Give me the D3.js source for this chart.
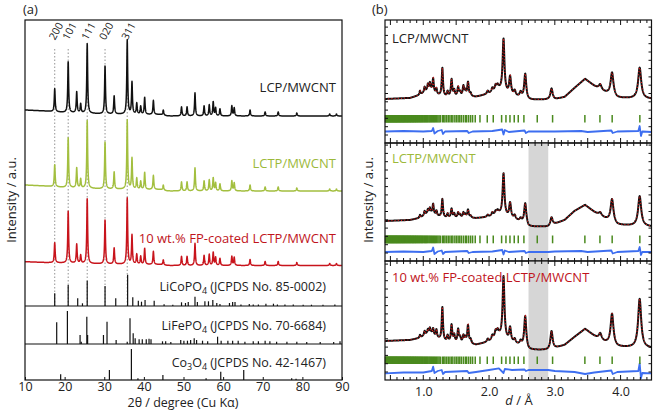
<!DOCTYPE html>
<html><head><meta charset="utf-8">
<script src="https://cdn.jsdelivr.net/npm/d3@7"></script>
<style>body{margin:0;background:#fff}svg{display:block;font-family:'Open Sans',sans-serif}</style>
</head><body>
<svg id="c" width="661" height="412"></svg>
<script>
// ---------- Panel (a) data ----------
const xTicksA = [10,20,30,40,50,60,70,80,90];
const millerLabels = ["200","101","111","020","311"];
const millerPos = [17.5,20.9,25.7,30.2,35.8];
const peakPosA = [17.5,20.9,23.05,24.05,25.7,30.2,32.5,35.8,37.0,38.2,39.2,40.2,42.4,44.9,49.5,50.9,52.9,55.2,56.5,57.5,58.1,59.2,62.2,62.8,66.8,70.6,73.9,78.6,86.9,88.6];
const hLCP  = [23,51,21,9,70,48,18,74,32,11,8,17,14,5,9,9,23,10,11,14,8,7,10,8,6,4,4,3,2,2];
const hLCTP = [22,50,20,9,68,47,17,69,31,11,8,17,14,5,9,9,23,10,11,13,8,7,10,8,6,4,4,3,2,2];
const hFP   = [20,52,19,8,65,44,16,66,29,10,8,16,13,5,9,9,22,10,11,13,8,7,9,8,6,4,4,3,2,2];
const baseLCP  = [[10,196],[15,195],[20,193.5],[30,192],[40,191.5],[44,191.5],[46,190],[48,190],[90,190]];
const baseLCTP = [[10,121],[15,120],[20,118.5],[30,117],[40,116.5],[44,116.5],[46,115],[48,115],[90,115]];
const baseFP   = [[10,44.3],[15,43.5],[20,43],[30,42],[40,41.5],[44,41.5],[46,40.5],[48,40.5],[90,40.5]];
const seriesA = ["LCP/MWCNT","LCTP/MWCNT","10 wt.% FP-coated LCTP/MWCNT"];
// reference patterns (stick)
const lcpRefPos = [17.5,20.9,23.3,24.5,25.7,30.2,32.9,35.9,37.2,38.6,39.4,40.3,42.6,45.1,47.3,49.5,50.5,51.2,52.9,53.5,55.4,56.3,57.4,58.4,59.2,61.6,62.4,63.0,64.5,66.6,67.6,68.9,70.8,72.7,73.7,75.6,77.7,80.2,82.3,85.2,88.2];
const lcpRefH   = [12.7,21,7.7,2.7,25.3,20,7.7,31.3,8.7,5.3,4.3,6,5.3,1.7,1.3,3.7,3,4,9.3,4,4.7,4.7,6,3,2,3,4,4,1.5,2,1.5,1.5,2.3,2.3,1.5,1.5,1.5,1.3,1.3,1.3,1.5];
const lfpRefPos = [18.0,20.7,23.9,24.2,25.6,25.8,29.8,30.7,33.0,35.8,36.5,37.3,37.8,38.8,39.6,40.6,41.3,41.8,44.7,45.5,46.8,49.3,50.1,51.0,51.8,52.7,53.3,54.8,56.1,58.6,59.5,61.2,62.4,63.8,65.5,67.6,68.9,70.6,71.8,73.5,76.1,78.6,81.1,84.5,87.9,89.5];
const lfpRefH   = [21.7,33,9,2.3,27.3,9,9,22.3,4,2.3,25.7,10.7,5.7,4.7,4.7,4.7,5.3,4.7,2.7,2.7,2,4,3.3,3.3,4,5.7,4,3.3,2.7,7.3,3.3,3.3,3.3,3.3,2.3,2.7,2.7,3.3,2.7,2.3,2.3,2.3,2,2,2,2.7];
const coRefPos  = [19.0,31.3,36.85,38.5,44.8,55.7,59.4,65.2,77.3,78.4];
const coRefH    = [5.7,10,31,1.7,5,1.7,8.3,10,1.7,1.3];

// ---------- Panel (b) data ----------
const xTicksB = [1,2,3,4];
const peakPosB = [0.95,1.02,1.07,1.10,1.15,1.20,1.29,1.37,1.43,1.47,1.53,1.56,1.61,1.64,1.68,1.72,1.98,2.05,2.10,2.13,2.22,2.32,2.39,2.48,2.55,2.95,3.69,3.87,4.29];
const hB1 = [4,5,6,7,13,6,28,5,17,6,9,4,10,5,14,3,3,4,5,4,53,18,5,5,25,11,5,23,31];
const hB2 = [3,4,4,5,10,5,18,4,9,4,5,3,5,3,8,2,2,3,3,3,42,15,4,3,20,8,3,23,30];
const hB3 = [3,4,4,5,6,8,33,6,17,7,13,5,7,5,18,4,3,4,6,5,62,14,4,4,31,18,6,31,49];
const baseB1 = [[0.42,44],[0.8,45],[0.95,48],[1.05,52],[1.12,53],[1.2,48],[1.35,46],[1.8,46],[2.0,49],[2.15,53],[2.3,48],[2.6,43],[3.0,43.5],[3.15,46],[3.3,55],[3.46,64],[3.6,57],[3.75,51],[3.95,45],[4.47,44]];
const baseB2 = [[0.42,40],[0.8,41],[0.95,43],[1.05,47],[1.12,48],[1.2,45],[1.35,43],[1.8,42.7],[2.0,44],[2.15,47],[2.3,43],[2.57,37],[2.6,34.3],[2.9,34.3],[3.0,37],[3.15,41],[3.3,50],[3.46,56],[3.6,49],[3.75,43],[3.95,36],[4.47,34.3]];
const baseB3 = [[0.42,39],[0.8,40],[0.95,42],[1.05,46],[1.12,47],[1.2,42],[1.35,38],[1.8,35],[2.0,38],[2.15,44],[2.3,38],[2.57,32],[2.6,30],[2.9,30],[3.0,31.7],[3.15,35],[3.3,43],[3.46,51],[3.6,44],[3.75,38],[3.95,33],[4.47,31.7]];
const diffB1 = [[0.42,11.5],[0.7,12],[1.0,11.5],[1.13,12],[1.15,15],[1.17,9.5],[1.22,12],[1.28,13],[1.30,9],[1.33,11.5],[1.67,12],[1.69,10],[1.75,11.5],[2.05,12],[2.2,13.5],[2.22,8.5],[2.24,13],[2.3,11],[2.54,12.5],[2.56,10],[2.6,11.5],[3.0,11.5],[3.4,12],[3.5,11],[3.86,12.5],[3.88,10],[3.95,11.5],[4.27,12],[4.29,17],[4.31,7],[4.33,11.5],[4.47,11]];
const diffB2 = [[0.42,9],[0.7,9.5],[1.0,9],[1.13,10],[1.15,13.5],[1.17,7],[1.22,9.5],[1.28,10.5],[1.30,7],[1.33,9],[1.67,10],[1.69,8],[1.75,9],[2.05,9.5],[2.2,11],[2.22,6.5],[2.24,10.5],[2.3,9],[2.54,10],[2.56,8],[2.6,9],[2.9,9],[3.0,9.5],[3.4,10],[3.5,9],[3.86,10.5],[3.88,7.5],[3.95,9],[4.27,10],[4.29,14],[4.31,6],[4.33,9],[4.47,9]];
const diffB3 = [[0.42,6.7],[0.7,7.5],[1.0,7.5],[1.13,9],[1.15,13.3],[1.17,7],[1.22,9],[1.28,10],[1.30,6],[1.33,8],[1.67,9],[1.69,7],[1.8,8],[2.0,10],[2.15,11.7],[2.22,7],[2.24,11],[2.35,10],[2.54,10.5],[2.56,9],[2.6,10],[2.9,10],[3.0,9],[3.3,8],[3.46,6],[3.6,7.5],[3.86,9.5],[3.88,6],[3.95,8],[4.27,9],[4.29,16.7],[4.31,1.7],[4.33,7],[4.47,6.7]];
const reflB = [0.425,0.433,0.44,0.448,0.455,0.462,0.47,0.477,0.485,0.492,0.5,0.507,0.515,0.522,0.53,0.538,0.545,0.553,0.56,0.568,0.576,0.583,0.591,0.598,0.606,0.614,0.622,0.63,0.638,0.646,0.654,0.662,0.67,0.679,0.687,0.695,0.704,0.712,0.721,0.73,0.738,0.747,0.756,0.765,0.774,0.783,0.792,0.801,0.81,0.82,0.829,0.839,0.848,0.858,0.868,0.878,0.888,0.898,0.909,0.919,0.93,0.941,0.952,0.963,0.975,0.986,0.998,1.01,1.022,1.035,1.047,1.06,1.073,1.087,1.1,1.114,1.128,1.143,1.158,1.173,1.188,1.205,1.222,1.24,1.258,1.29,1.31,1.33,1.355,1.38,1.405,1.43,1.45,1.48,1.505,1.53,1.555,1.58,1.61,1.64,1.66,1.69,1.72,1.75,1.79,1.862,1.973,2.064,2.191,2.257,2.318,2.383,2.444,2.53,2.733,2.966,3.457,3.686,3.872,4.293];
const excluded = [2.6, 2.9];

// ---------- drawing ----------
const svg = d3.select("#c");
const cBlack="#111", cGreen="#a3bf3f", cRed="#c8141c", cTick="#4a8a1e", cBlue="#3d6ef0";

function profile(grid, base, pos, h, hw){
  const b = d3.scaleLinear(base.map(d=>d[0]), base.map(d=>d[1]));
  return grid.map(x=>{
    let v=b(x);
    for(let i=0;i<pos.length;i++){const w=hw(pos[i]);const t=(x-pos[i])/w;v+=h[i]/(1+t*t);}
    return [x,v];
  });
}

// Panel (a)
const xA = d3.scaleLinear([10,90],[25,342]);
const yA = d3.scaleLinear([0,286],[306,20]);
const yFe = d3.scaleLinear([0,38],[344,306]);
const yCo = d3.scaleLinear([0,36],[380,344]);
const gA = svg.append("g");
gA.selectAll("line.g").data(millerPos).join("line")
  .attr("x1",d=>xA(d)).attr("x2",d=>xA(d)).attr("y1",49).attr("y2",306)
  .attr("stroke","#777").attr("stroke-width",0.8).attr("stroke-dasharray","1.5,2");
gA.selectAll("text.m").data(millerLabels).join("text")
  .attr("transform",(d,i)=>`translate(${xA(millerPos[i])+1},31) rotate(-62)`)
  .attr("text-anchor","middle").attr("dominant-baseline","central")
  .attr("font-size",10.5).attr("fill","#222").text(d=>d);
const gridA = d3.range(10,90.0001,0.03);
const lineA = d3.line().x(d=>xA(d[0])).y(d=>yA(d[1]));
const hwA = ()=>0.13;
[[baseLCP,hLCP,cBlack],[baseLCTP,hLCTP,cGreen],[baseFP,hFP,cRed]].forEach(([b,h,c])=>{
  gA.append("path").attr("d",lineA(profile(gridA,b,peakPosA,h,hwA)))
    .attr("fill","none").attr("stroke",c).attr("stroke-width",1.5).attr("stroke-linejoin","round");
});
function sticks(pos,h,ys){
  gA.append("g").selectAll("line").data(pos).join("line")
    .attr("x1",d=>xA(d)).attr("x2",d=>xA(d)).attr("y1",ys(0)).attr("y2",(d,i)=>ys(h[i]))
    .attr("stroke","#111").attr("stroke-width",1.2);
}
sticks(lcpRefPos,lcpRefH,yA); sticks(lfpRefPos,lfpRefH,yFe); sticks(coRefPos,coRefH,yCo);
gA.append("rect").attr("x",25).attr("y",20).attr("width",317).attr("height",360)
  .attr("fill","none").attr("stroke","#111").attr("stroke-width",1.2);
[306,344].forEach(y=>gA.append("line").attr("x1",25).attr("x2",342).attr("y1",y).attr("y2",y).attr("stroke","#111").attr("stroke-width",1.1));
const axA = gA.append("g").attr("transform","translate(0,380)")
  .call(d3.axisBottom(xA).tickValues(xTicksA).tickSizeInner(-3).tickSizeOuter(0).tickPadding(2).tickFormat(d3.format("d")));
axA.select(".domain").remove();
axA.selectAll("text").attr("font-size",12.5).attr("fill","#222").attr("font-family","'Open Sans',sans-serif");
axA.selectAll("line").attr("stroke","#111");
const labA=[[seriesA[0],92,"#222"],[seriesA[1],168,"#9cb93a"],[seriesA[2],243,"#c0141c"]];
labA.forEach(([t,y,c])=>gA.append("text").attr("x",336).attr("y",y).attr("text-anchor","end").attr("font-size",13).attr("fill",c).text(t));
function refLabel(y,parts){
  const t=gA.append("text").attr("x",326).attr("y",y).attr("text-anchor","end").attr("font-size",12.5).attr("fill","#222");
  parts.forEach(([s,sub])=>{ if(sub) t.append("tspan").attr("font-size",9).attr("dy",3).text(s); else t.append("tspan").attr("dy",0).text(s);});
  // restore baseline after subscripts
  t.selectAll("tspan").each(function(d,i,n){ if(i>0 && !d3.select(n[i-1]).attr("font-size")===false){} });
  return t;
}
function chem(y, parts){
  const t=gA.append("text").attr("x",326).attr("y",y).attr("text-anchor","end").attr("font-size",12.5).attr("fill","#222");
  let sub=false;
  parts.forEach(p=>{
    const isSub = /^[0-9]$/.test(p);
    const ts=t.append("tspan").text(p);
    if(isSub){ts.attr("font-size",9).attr("dy",sub?0:3);sub=true;}
    else {ts.attr("dy",sub?-3:0);sub=false;}
  });
}
chem(291,["LiCoPO","4"," (JCPDS No. 85-0002)"]);
chem(330,["LiFePO","4"," (JCPDS No. 70-6684)"]);
chem(366.5,["Co","3","O","4"," (JCPDS No. 42-1467)"]);
gA.append("text").attr("x",183).attr("y",407).attr("text-anchor","middle").attr("font-size",12.5).attr("fill","#222").text("2θ / degree (Cu Kα)");
gA.append("text").attr("transform","translate(16,200) rotate(-90)").attr("text-anchor","middle").attr("font-size",13).attr("fill","#222").text("Intensity / a.u.");
svg.append("text").attr("x",23).attr("y",14).attr("font-size",13).attr("fill","#222").text("(a)");
svg.append("text").attr("x",372).attr("y",14).attr("font-size",13).attr("fill","#222").text("(b)");

// Panel (b)
const xB = d3.scaleLinear([0.418,4.47],[385,651.5]);
const subs = [
  {top:20,bottom:143,base:baseB1,h:hB1,diff:diffB1,label:"LCP/MWCNT",lc:"#222",ly:43,band:false,tk:[20.5,28]},
  {top:143,bottom:261,base:baseB2,h:hB2,diff:diffB2,label:"LCTP/MWCNT",lc:"#9cb93a",ly:163,band:true,tk:[17.7,25.5]},
  {top:261,bottom:380,base:baseB3,h:hB3,diff:diffB3,label:"10 wt.% FP-coated LCTP/MWCNT",lc:"#c0141c",ly:282,band:true,tk:[16,23.5]}
];
const gridB = d3.range(0.418,4.4701,0.0025);
const hwB = p=>0.004+0.0055*p;
const gB = svg.append("g");
subs.forEach(s=>{
  const y = d3.scaleLinear([0,s.bottom-s.top],[s.bottom,s.top]);
  const g = gB.append("g");
  if(s.band) g.append("rect").attr("x",xB(excluded[0])).attr("width",xB(excluded[1])-xB(excluded[0]))
      .attr("y",s.top).attr("height",s.bottom-s.top).attr("fill","#d6d6d6");
  const line = d3.line().x(d=>xB(d[0])).y(d=>y(d[1]));
  g.append("path").attr("d",line(s.diff)).attr("fill","none").attr("stroke",cBlue).attr("stroke-width",1.8).attr("stroke-linejoin","round");
  g.append("g").selectAll("line").data(reflB).join("line")
    .attr("x1",d=>xB(d)).attr("x2",d=>xB(d)).attr("y1",y(s.tk[0])).attr("y2",y(s.tk[1]))
    .attr("stroke",cTick).attr("stroke-width",1.5);
  const prof = profile(gridB,s.base,peakPosB,s.h,hwB);
  g.append("path").attr("d",line(prof)).attr("fill","none").attr("stroke",cBlack).attr("stroke-width",2).attr("stroke-linejoin","round");
  g.append("path").attr("d",line(prof)).attr("fill","none").attr("stroke","#e01818").attr("stroke-width",1.2).attr("stroke-dasharray","1,2.2");
  g.append("text").attr("x",392).attr("y",s.ly).attr("font-size",13).attr("fill",s.lc).text(s.label);
  const xt = d3.range(5,45).map(d=>d/10);
  g.append("g").selectAll("line").data(xt).join("line").attr("x1",d=>xB(d)).attr("x2",d=>xB(d))
    .attr("y1",s.top).attr("y2",d=>s.top+(Math.round(d*10)%5==0?5:3)).attr("stroke","#111").attr("stroke-width",1);
  g.append("g").selectAll("line").data(xt).join("line").attr("x1",d=>xB(d)).attr("x2",d=>xB(d))
    .attr("y1",s.bottom).attr("y2",d=>s.bottom-(Math.round(d*10)%5==0?5:3)).attr("stroke","#111").attr("stroke-width",1);
  const yt = d3.range(8,s.bottom-s.top-2,8.3);
  [385,651.5].forEach((x0,k)=>{
    g.append("g").selectAll("line").data(yt).join("line").attr("y1",d=>y(d)).attr("y2",d=>y(d))
      .attr("x1",x0).attr("x2",x0+(k==0?3:-3)).attr("stroke","#111").attr("stroke-width",1);
  });
  g.append("rect").attr("x",385).attr("y",s.top).attr("width",266.5).attr("height",s.bottom-s.top)
    .attr("fill","none").attr("stroke","#111").attr("stroke-width",1.2);
});
const axB = gB.append("g").attr("transform","translate(0,380)")
  .call(d3.axisBottom(xB).tickValues(xTicksB).tickSize(0).tickPadding(7).tickFormat(d3.format(".1f")));
axB.select(".domain").remove();
axB.selectAll("text").attr("font-size",12.5).attr("fill","#222").attr("font-family","'Open Sans',sans-serif");
{const t=gB.append("text").attr("x",519).attr("y",405).attr("text-anchor","middle").attr("font-size",13).attr("fill","#222");
 t.append("tspan").attr("font-style","italic").text("d");t.append("tspan").text(" / Å");}
gB.append("text").attr("transform","translate(373,200) rotate(-90)").attr("text-anchor","middle").attr("font-size",13).attr("fill","#222").text("Intensity / a.u.");
</script>
</body></html>
